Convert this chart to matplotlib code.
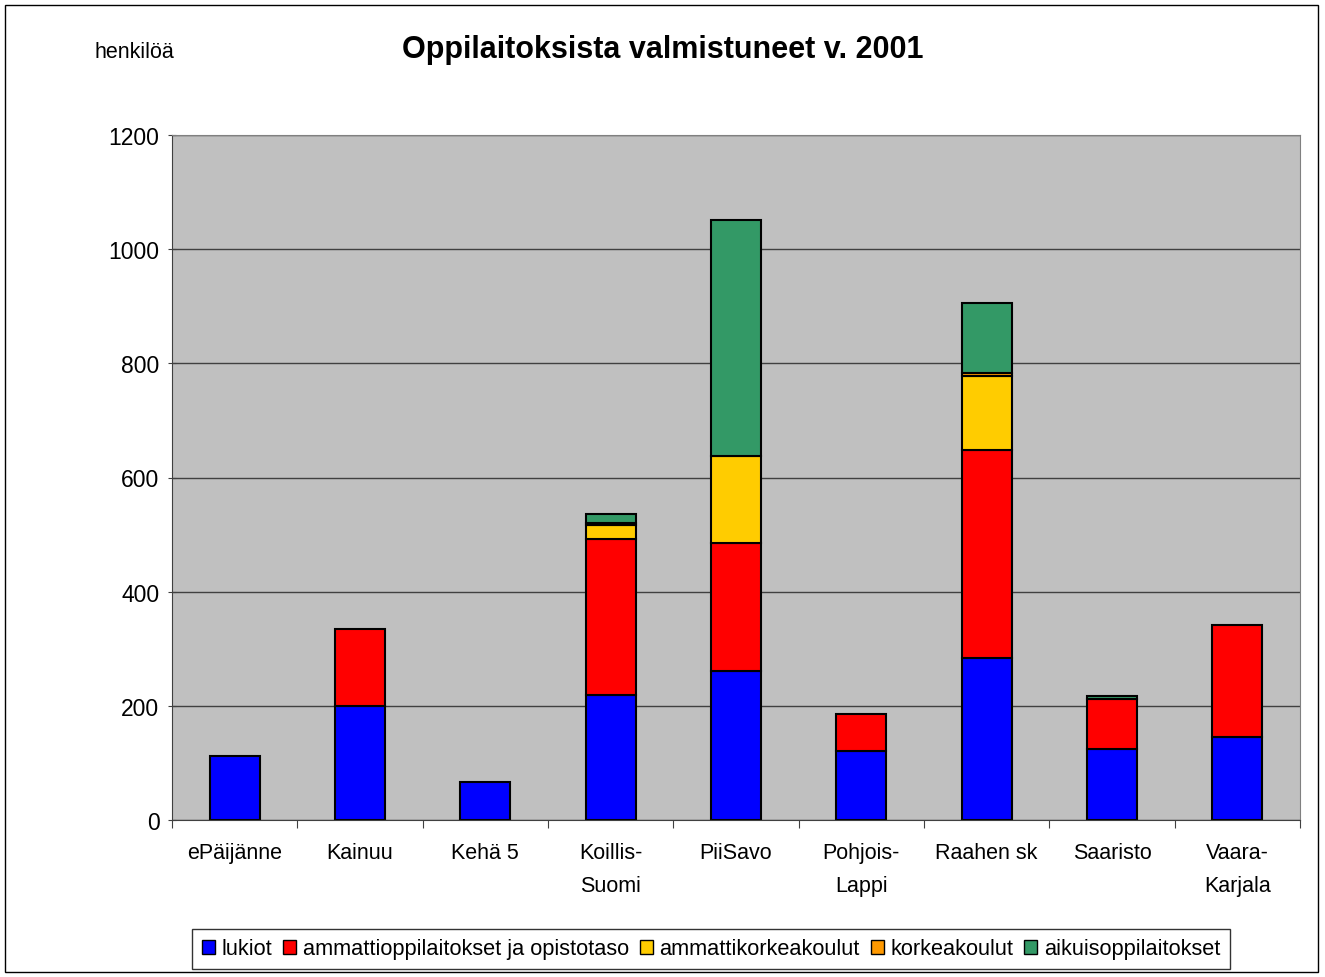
import matplotlib.pyplot as plt
import numpy as np

# Oppilaitoksista valmistuneet v. 2001, pinottu pylväskaavio
regions = ["ePäijänne", "Kainuu", "Kehä 5", "Koillis-\nSuomi", "PiiSavo",
           "Pohjois-\nLappi", "Raahen sk", "Saaristo", "Vaara-\nKarjala"]
lukiot = [112, 200, 67, 219, 261, 121, 284, 124, 145]
ammatti = [0, 135, 0, 273, 224, 65, 364, 88, 197]
amk = [0, 0, 0, 25, 153, 0, 129, 0, 0]
korkea = [0, 0, 0, 4, 0, 0, 6, 0, 0]
aikuis = [0, 0, 0, 15, 413, 0, 123, 5, 0]

series = [
    ("lukiot", lukiot, "#0000FF"),
    ("ammattioppilaitokset ja opistotaso", ammatti, "#FF0000"),
    ("ammattikorkeakoulut", amk, "#FFCC00"),
    ("korkeakoulut", korkea, "#FF9900"),
    ("aikuisoppilaitokset", aikuis, "#339966"),
]

plt.rcParams["font.family"] = ["Liberation Sans", "DejaVu Sans"]

fig = plt.figure(figsize=(13.25, 9.78), dpi=100)
ax = fig.add_axes([172 / 1325, 1 - 821 / 978, (1300 - 172) / 1325, (821 - 136) / 978])
ax.set_facecolor("#C0C0C0")

x = np.arange(len(regions))
bottom = np.zeros(len(regions))
for name, vals, col in series:
    vals = np.array(vals, dtype=float)
    lw = [1.5 if v > 0 else 0 for v in vals]
    ax.bar(x, vals, 0.4, bottom=bottom, color=col, edgecolor="black",
           linewidth=lw, label=name)
    bottom += vals

ax.set_xlim(-0.5, len(regions) - 0.5)
ax.set_ylim(0, 1200)
ax.set_yticks(np.arange(0, 1201, 200))
ax.yaxis.grid(True, color="#404040", linewidth=1)
ax.set_axisbelow(True)

# x ticks between categories, labels centered under bars
ax.set_xticks(np.arange(-0.5, len(regions), 1))
ax.set_xticklabels([])
ax.set_xticks(x, minor=True)
ax.set_xticklabels(regions, minor=True, fontsize=15.5)
ax.tick_params(axis="x", which="minor", length=0, pad=16)
ax.tick_params(axis="x", which="major", length=6, color="#404040")
ax.tick_params(axis="y", labelsize=16.5, length=6, color="#404040",
               direction="inout", pad=6)
for lbl in ax.get_xticklabels(minor=True):
    lbl.set_linespacing(1.75)

for s in ["top", "right"]:
    ax.spines[s].set_color("#808080")
for s in ["left", "bottom"]:
    ax.spines[s].set_color("#404040")

fig.text(663 / 1325, 1 - 50 / 978, "Oppilaitoksista valmistuneet v. 2001",
         ha="center", va="center", fontsize=22, fontweight="bold")
fig.text(95 / 1325, 1 - 52 / 978, "henkilöä", ha="left", va="center", fontsize=15.5)

leg = fig.legend(loc="center", bbox_to_anchor=(711 / 1325, 1 - 950 / 978), ncol=5,
                 fontsize=15.7, frameon=True, fancybox=False, edgecolor="black",
                 handlelength=0.6, handleheight=0.6, handletextpad=0.3,
                 columnspacing=0.5, borderpad=0.45)
leg.get_frame().set_linewidth(1)
for h in leg.legend_handles:
    h.set_linewidth(1)
    h.set_edgecolor("black")

fig.patches.append(plt.Rectangle((5 / 1325, 5 / 978), 1313 / 1325, 967 / 978,
                                 transform=fig.transFigure, fill=False,
                                 edgecolor="black", linewidth=1))

fig.savefig("out.png", dpi=100)
